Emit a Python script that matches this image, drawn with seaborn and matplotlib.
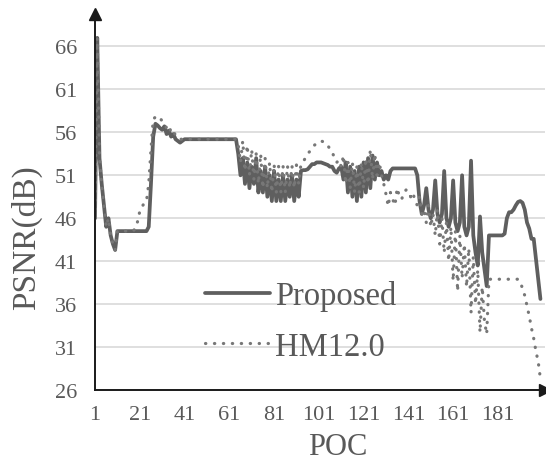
import numpy as np
import pandas as pd
import seaborn as sns
import matplotlib.pyplot as plt

# PSNR per frame (POC 1..200)
proposed = [
    46, 67, 53, 50, 47.5, 45, 46, 44, 43, 42.3,
    44.5, 44.5, 44.5, 44.5, 44.5, 44.5, 44.5, 44.5, 44.5, 44.5,
    44.5, 44.5, 44.5, 44.5, 45, 50, 55.5, 57, 56.8, 56.5,
    56.3, 56.7, 55.8, 56.2, 55.5, 55.8, 55.2, 55.0, 54.8, 55.0,
    55.2, 55.2, 55.2, 55.2, 55.2, 55.2, 55.2, 55.2, 55.2, 55.2,
    55.2, 55.2, 55.2, 55.2, 55.2, 55.2, 55.2, 55.2, 55.2, 55.2,
    55.2, 55.2, 55.2, 55.2, 53.5, 51, 53, 50, 52.5, 49.5,
    52, 50, 53, 49, 51.5, 49, 52, 48.5, 51, 48,
    51.5, 48, 50.5, 48, 51, 48, 50.5, 48.5, 51, 48,
    50.5, 48.5, 51.5, 51.6, 51.6, 51.7, 52, 52.3, 52.3, 52.5,
    52.5, 52.5, 52.4, 52.3, 52.2, 52, 52, 51.5, 51.3, 51.8,
    52, 50.5, 52.5, 49, 52, 48.5, 51.5, 48, 52, 48.5,
    52.5, 49, 53, 49.5, 53.3, 50.5, 52.5, 51, 51.5, 50.5,
    51, 50.5, 51.5, 51.8, 51.8, 51.8, 51.8, 51.8, 51.8, 51.8,
    51.8, 51.8, 51.8, 51.8, 51, 48, 46.5, 47.5, 49.5, 47,
    46, 47, 50.4, 46.5, 45.5, 46.5, 51.5, 46, 45, 46,
    50.4, 45.5, 44.5, 45.5, 51, 45, 44, 45, 52.7, 44,
    42, 40.5, 46.2, 42, 40, 38.1, 44, 44, 44, 44,
    44, 44, 44, 44.2, 46, 46.7, 46.7, 47, 47.5, 47.9,
    48, 47.8, 47, 45.5, 44.8, 43.6, 43.6, 41.3, 39, 36.6,
]

hm = [
    46, 67, 53, 50, 47.5, 45, 46, 44, 43, 42.3,
    44.5, 44.5, 44.5, 44.5, 44.5, 44.5, 44.5, 44.5, 44.8, 45.6,
    46.8, 47.3, 47.8, 48, 50, 54, 57.5, 57.8, 57.6, 57.7,
    57.3, 57, 56.5, 56.8, 56, 56.2, 55.6, 55.4, 55.2, 55.2,
    55.2, 55.2, 55.2, 55.2, 55.2, 55.2, 55.2, 55.2, 55.2, 55.2,
    55.2, 55.2, 55.2, 55.2, 55.2, 55.2, 55.2, 55.2, 55.2, 55.2,
    55.2, 55.2, 55.2, 55.2, 54.5, 52.5, 55, 51.5, 54.5, 51,
    54, 50.5, 53.5, 50, 53.5, 49.5, 53, 49.5, 52.5, 49,
    52.3, 49, 52.1, 49, 52.1, 49, 52.1, 49.5, 52.1, 49.5,
    52.2, 50, 52.3, 52.6, 53, 53.5, 53.8, 54.2, 54.5, 54.7,
    54.9, 55, 54.9, 54.8, 54.5, 54, 53.7, 53, 52.5, 52.8,
    52, 53.3, 50, 52.5, 49.5, 52.5, 49, 52, 49, 52.5,
    49.5, 53, 50, 54, 50.5, 53.5, 51, 52.5, 51, 50,
    48.8, 47.4, 49, 48.2, 47.5, 49.5, 48.5, 48.2, 49, 49.3,
    49.2, 48.5, 49, 48, 47.5, 48.5, 46.5, 47, 45.5, 47.5,
    45, 46.5, 44, 47, 43, 46, 42, 45.5, 41, 45,
    38.7, 44.5, 37.5, 44, 39, 43, 38, 42.5, 35, 41.5,
    36, 40, 32.7, 38, 34, 32.5, 38.9, 38.9, 38.9, 38.9,
    38.9, 38.9, 38.9, 38.9, 38.9, 38.9, 38.9, 38.9, 38.9, 38.9,
    38.6, 37.8, 37, 35.8, 34.6, 33.2, 32, 30.5, 29.3, 27.3,
]

poc = list(range(1, len(proposed) + 1))
x_ticks = [1, 21, 41, 61, 81, 101, 121, 141, 161, 181]
y_ticks = [26, 31, 36, 41, 46, 51, 56, 61, 66]

df = pd.DataFrame({'POC': poc, 'Proposed': proposed, 'HM12.0': hm})

sns.set_style("white")
plt.rcParams['font.family'] = ['Liberation Serif', 'DejaVu Serif']

fig = plt.figure(figsize=(5.46, 4.56), dpi=100)
ax = fig.add_axes([0.174, 0.1425, 0.824, 0.825])

sns.lineplot(data=df, x='POC', y='Proposed', ax=ax, color='#5f5f5f',
             linewidth=2.7, label='Proposed')
sns.lineplot(data=df, x='POC', y='HM12.0', ax=ax, color='#777777',
             linewidth=2.3, linestyle=(0, (0.1, 2.7)), dash_capstyle='round',
             label='HM12.0')

ax.set_xlim(1, 202)
ax.set_ylim(26, 69.8)
ax.set_xticks(x_ticks)
ax.set_yticks(y_ticks)
ax.tick_params(axis='y', length=0, labelsize=16, labelcolor='#595959', pad=13)
ax.tick_params(axis='x', length=0, labelsize=16, labelcolor='#595959', pad=11)
ax.yaxis.grid(True, color='#d9d9d9', linewidth=1.2)
ax.set_axisbelow(True)

for side in ['top', 'right']:
    ax.spines[side].set_visible(False)
for side in ['left', 'bottom']:
    ax.spines[side].set_color('#1a1a1a')
    ax.spines[side].set_linewidth(1.4)

# arrow heads on the axes
ax.plot(1, 0, '>', color='#1a1a1a', markersize=9, transform=ax.transAxes, clip_on=False)
ax.plot(0, 1, '^', color='#1a1a1a', markersize=9, transform=ax.transAxes, clip_on=False)

ax.set_xlabel('POC', fontsize=22, color='#595959')
ax.xaxis.set_label_coords(0.54, -0.112)
ax.set_ylabel('PSNR(dB)', fontsize=24, color='#595959')
ax.yaxis.set_label_coords(-0.118, 0.407)

leg = ax.legend(loc='upper left', bbox_to_anchor=(205 / 546, 1 - 281 / 456),
                bbox_transform=fig.transFigure, frameon=False, borderpad=0,
                borderaxespad=0, fontsize=23.5, handlelength=2.0,
                handletextpad=0.15, labelspacing=0.62, labelcolor='#595959')

plt.savefig('out.png', dpi=100)
